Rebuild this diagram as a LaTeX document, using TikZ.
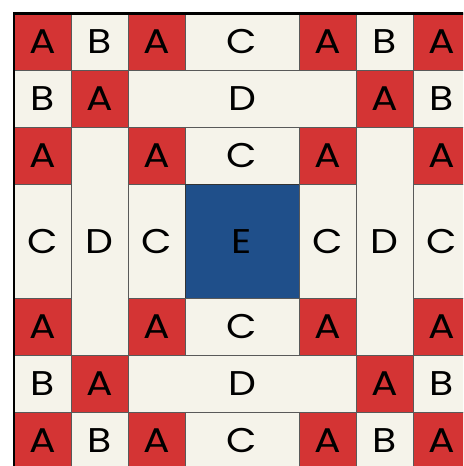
\documentclass[tikz,border=0pt]{standalone}
\usepackage{xcolor}
\usepackage{fontspec}
\usepackage{tikz}
\usetikzlibrary{positioning}
\newfontfamily\quiltfont[FakeStretch=1.15]{Poppins}
\definecolor{quiltred}{RGB}{212,52,52}
\definecolor{quiltcream}{RGB}{245,243,234}
\definecolor{quiltblue}{RGB}{31,79,138}

\begin{document}
\begin{tikzpicture}[
    x=0.02cm, y=-0.02cm,
    cell/.style={draw=black!65, line width=0.5pt, inner sep=0pt, outer sep=0pt,
        minimum width=1.14cm, minimum height=1.14cm, font=\quiltfont\fontsize{19.5}{19.5}\selectfont},
    red/.style={cell, fill=quiltred},
    cream/.style={cell, fill=quiltcream},
    wide/.style={cream, minimum width=2.28cm},
    tall/.style={cream, minimum height=2.28cm},
    long/.style={cream, minimum width=4.56cm},
    hightall/.style={cream, minimum height=4.56cm},
    core/.style={cell, fill=quiltblue, draw=black!80, minimum width=2.28cm, minimum height=2.28cm},
    frame/.style={line width=1.2pt},
]
\useasboundingbox[fill=white] (0,0) rectangle (463,466);
\clip (0,0) rectangle (463,466);

\node[red]   (a00) at (42.5, 42) {A};
\node[cream] (b01) at (99.5, 42) {B};
\node[red]   (a02) at (156.5, 42) {A};
\node[wide]  (c03) at (242, 42) {C};
\node[red]   (a04) at (327.5, 42) {A};
\node[cream] (b05) at (384.5, 42) {B};
\node[red]   (a06) at (441.5, 42) {A};

\node[cream] (b10) at (42.5, 99) {B};
\node[red]   (a11) at (99.5, 99) {A};
\node[long]  (d12) at (242, 99) {D};
\node[red]   (a15) at (384.5, 99) {A};
\node[cream] (b16) at (441.5, 99) {B};

\node[red]   (a20) at (42.5, 156) {A};
\node[hightall] (d21) at (99.5, 241.5) {D};
\node[red]   (a22) at (156.5, 156) {A};
\node[wide]  (c23) at (242, 156) {C};
\node[red]   (a24) at (327.5, 156) {A};
\node[hightall] (d25) at (384.5, 241.5) {D};
\node[red]   (a26) at (441.5, 156) {A};

\node[tall]  (c30) at (42.5, 241.5) {C};
\node[tall]  (c32) at (156.5, 241.5) {C};
\node[core]  (e33) at (242, 241.5) {E};
\node[tall]  (c34) at (327.5, 241.5) {C};
\node[tall]  (c36) at (441.5, 241.5) {C};

\node[red]   (a40) at (42.5, 327) {A};
\node[red]   (a42) at (156.5, 327) {A};
\node[wide]  (c43) at (242, 327) {C};
\node[red]   (a44) at (327.5, 327) {A};
\node[red]   (a46) at (441.5, 327) {A};

\node[cream] (b50) at (42.5, 384) {B};
\node[red]   (a51) at (99.5, 384) {A};
\node[long]  (d52) at (242, 384) {D};
\node[red]   (a55) at (384.5, 384) {A};
\node[cream] (b56) at (441.5, 384) {B};

\node[red]   (a60) at (42.5, 441) {A};
\node[cream] (b61) at (99.5, 441) {B};
\node[red]   (a62) at (156.5, 441) {A};
\node[wide]  (c63) at (242, 441) {C};
\node[red]   (a64) at (327.5, 441) {A};
\node[cream] (b65) at (384.5, 441) {B};
\node[red]   (a66) at (441.5, 441) {A};

\draw[frame] (a00.north west) rectangle (a66.south east);
\end{tikzpicture}
\end{document}
